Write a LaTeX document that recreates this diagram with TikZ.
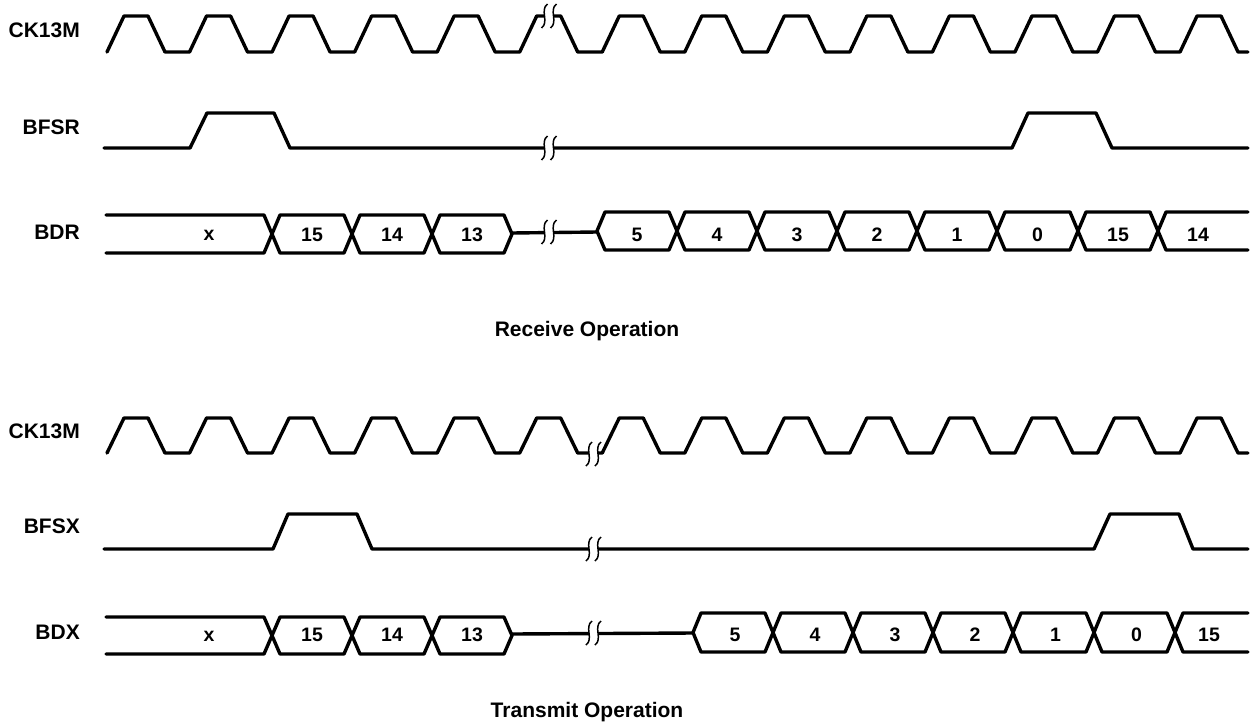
\documentclass[tikz,border=0pt]{standalone}
\usepackage{fontspec}
\setmainfont{Liberation Sans}
\usetikzlibrary{positioning}

% break symbol: two thin S-strokes with a white gap between them
\newcommand{\sigbreak}[2]{%
  \fill[white] ({#1-1.5},{#2-12}) .. controls ({#1-9.5},{#2-6}) and ({#1+0.5},{#2+6}) .. ({#1-7.5},{#2+12})
    -- ({#1+1.5},{#2+12}) .. controls ({#1+9.5},{#2+6}) and ({#1-0.5},{#2-6}) .. ({#1+7.5},{#2-12}) -- cycle;
  \draw[brk] ({#1-1.5},{#2-12}) .. controls ({#1-9.5},{#2-6}) and ({#1+0.5},{#2+6}) .. ({#1-7.5},{#2+12});
  \draw[brk] ({#1+7.5},{#2-12}) .. controls ({#1-0.5},{#2-6}) and ({#1+9.5},{#2+6}) .. ({#1+1.5},{#2+12});
}

\begin{document}
\begin{tikzpicture}[
  x=1pt, y=-1pt,
  sig/.style={line width=3.4pt, line join=round, line cap=round, black},
  brk/.style={line width=1.5pt, black},
  lbl/.style={anchor=east, inner sep=0pt, font=\fontsize{21}{25}\selectfont\bfseries},
  dat/.style={inner sep=0pt, font=\fontsize{19.5}{23}\selectfont\bfseries},
  ttl/.style={inner sep=0pt, font=\fontsize{21}{25}\selectfont\bfseries}
]
  \useasboundingbox (0,0) rectangle (1253,726);

  % Receive: signal names
  \node[lbl] (rxclk)  at (80,30)    {CK13M};
  \node[lbl] (rxfs)   at (80,127)   {BFSR};
  \node[lbl] (rxdat)  at (80,232.5) {BDR};

  % Receive: clock
  \draw[sig] (107,52) \foreach \k in {0,...,13} {
      -- ({107+82.54*\k},52) -- ({107+82.54*\k+17},16) -- ({107+82.54*\k+41},16) -- ({107+82.54*\k+58},52) }
    -- (1248,52);
  \sigbreak{549}{16}

  % Receive: frame sync
  \draw[sig] (104,148) -- (190,148) -- (207,113) -- (274,113) -- (290,148)
    -- (1012,148) -- (1028,113) -- (1096,113) -- (1112,148) -- (1248,148);
  \sigbreak{549}{148}

  % Receive: data bus
  \draw[sig] (106,215) -- (264,215) -- (272,234) -- (264,253) -- (106,253);
  \node[dat] (rxx) at (209,235) {x};
  \foreach \a/\b/\v in {272/352/15, 352/432/14, 432/512/13} {
    \draw[sig] (\a,234) -- (\a+8,215) -- (\b-8,215) -- (\b,234) -- (\b-8,253) -- (\a+8,253) -- cycle;
    \node[dat] (rx\a) at ({(\a+\b)/2},235) {\v};
  }
  \draw[sig] (512,233) -- (597,232);
  \sigbreak{549}{232}
  \foreach \a/\b/\v in {597/677/5, 677/757/4, 757/837/3, 837/917/2, 917/997/1, 997/1078/0, 1078/1158/15} {
    \draw[sig] (\a,231) -- (\a+8,212) -- (\b-8,212) -- (\b,231) -- (\b-8,250) -- (\a+8,250) -- cycle;
    \node[dat] (rx\a) at ({(\a+\b)/2},235) {\v};
  }
  \draw[sig] (1248,212) -- (1166,212) -- (1158,231) -- (1166,250) -- (1248,250);
  \node[dat] (rxlast) at (1198,235) {14};

  \node[ttl] (rxttl) at (587,331) {Receive Operation};

  % Transmit: signal names
  \node[lbl] (txclk)  at (80,431) {CK13M};
  \node[lbl] (txfs)   at (80,526) {BFSX};
  \node[lbl] (txdat)  at (80,632) {BDX};

  % Transmit: clock
  \draw[sig] (107,453) \foreach \k in {0,...,13} {
      -- ({107+82.54*\k},453) -- ({107+82.54*\k+17},418) -- ({107+82.54*\k+41},418) -- ({107+82.54*\k+58},453) }
    -- (1248,453);
  \sigbreak{593.5}{454}

  % Transmit: frame sync
  \draw[sig] (104,549) -- (273,549) -- (288,514) -- (357,514) -- (372,549)
    -- (1094,549) -- (1110,514) -- (1179,514) -- (1193,549) -- (1248,549);
  \sigbreak{593.5}{549}

  % Transmit: data bus
  \draw[sig] (106,617) -- (264,617) -- (272,635.5) -- (264,654) -- (106,654);
  \node[dat] (txx) at (209,636) {x};
  \foreach \a/\b/\v in {272/352/15, 352/432/14, 432/512/13} {
    \draw[sig] (\a,635.5) -- (\a+8,617) -- (\b-8,617) -- (\b,635.5) -- (\b-8,654) -- (\a+8,654) -- cycle;
    \node[dat] (tx\a) at ({(\a+\b)/2},635) {\v};
  }
  \draw[sig] (512,634) -- (693,633);
  \sigbreak{593.5}{633}
  \foreach \a/\b/\v in {693/773/5, 773/853/4, 853/933/3, 933/1013/2, 1013/1094/1, 1094/1175/0} {
    \draw[sig] (\a,632.5) -- (\a+8,613) -- (\b-8,613) -- (\b,632.5) -- (\b-8,652) -- (\a+8,652) -- cycle;
    \node[dat] (tx\a) at ({(\a+\b)/2+2},635) {\v};
  }
  \draw[sig] (1248,613) -- (1183,613) -- (1175,632.5) -- (1183,652) -- (1248,652);
  \node[dat] (txlast) at (1209,635) {15};

  \node[ttl] (txttl) at (587,712) {Transmit Operation};

\end{tikzpicture}
\end{document}
